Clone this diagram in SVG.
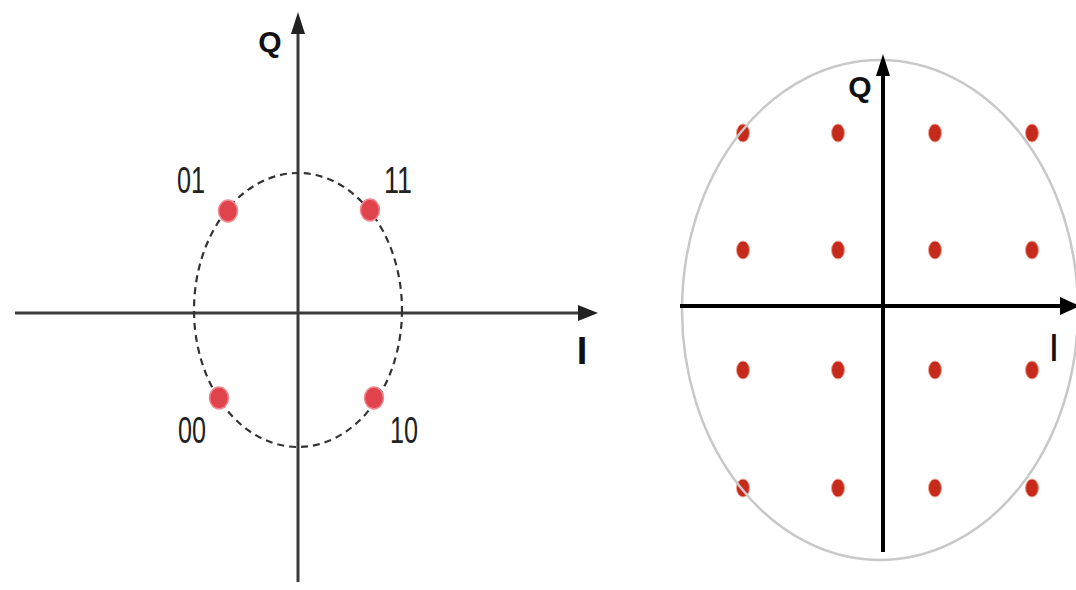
<svg xmlns="http://www.w3.org/2000/svg" width="1076" height="590" viewBox="0 0 1076 590">
<style>
.ax1{stroke:#3a3a3a;stroke-width:3;fill:none}
.ax2{stroke:#000;stroke-width:4;fill:none}
.lbl{font-family:"Liberation Sans",Arial,sans-serif;font-size:36px;fill:#222}
.axl{font-family:"Liberation Sans",Arial,sans-serif;font-weight:bold;font-size:30px;fill:#111}
.pt1{fill:#e0434b;stroke:#f08a90;stroke-width:1.5}
.pt2{fill:#c62a1c;stroke:#f2a090;stroke-width:1}
</style>
<rect width="1076" height="590" fill="#fff"/>
<g id="left-axes">
<line class="ax1" x1="298" y1="582" x2="298" y2="30"/>
<polygon points="298,12 291,34 305,34" fill="#222"/>
<line class="ax1" x1="15" y1="313" x2="580" y2="313"/>
<polygon points="598,313 578,305 578,321" fill="#222"/>
<text class="axl" x="270" y="52" text-anchor="middle">Q</text>
<text class="axl" x="582" y="364" text-anchor="middle" style="font-size:38px">I</text>
</g>
<g id="left-ellipse">
<ellipse cx="298" cy="310" rx="104" ry="137" fill="none" stroke="#333" stroke-width="2.2" stroke-dasharray="7,5"/>
</g>
<g id="pt01"><ellipse class="pt1" cx="228" cy="211" rx="9.5" ry="11"/><text class="lbl" x="177" y="193" textLength="28" lengthAdjust="spacingAndGlyphs">01</text></g>
<g id="pt11"><ellipse class="pt1" cx="370" cy="210" rx="9.5" ry="11"/><text class="lbl" x="384" y="193" textLength="28" lengthAdjust="spacingAndGlyphs">11</text></g>
<g id="pt00"><ellipse class="pt1" cx="219" cy="398" rx="9.5" ry="11"/><text class="lbl" x="178" y="443" textLength="28" lengthAdjust="spacingAndGlyphs">00</text></g>
<g id="pt10"><ellipse class="pt1" cx="374" cy="398" rx="9.5" ry="11"/><text class="lbl" x="390" y="443" textLength="28" lengthAdjust="spacingAndGlyphs">10</text></g>
<g id="right-points">
<ellipse class="pt2" cx="743" cy="133" rx="6.5" ry="9"/>
<ellipse class="pt2" cx="838" cy="133" rx="6.5" ry="9"/>
<ellipse class="pt2" cx="935" cy="133" rx="6.5" ry="9"/>
<ellipse class="pt2" cx="1032" cy="133" rx="6.5" ry="9"/>
<ellipse class="pt2" cx="743" cy="250" rx="6.5" ry="9"/>
<ellipse class="pt2" cx="838" cy="250" rx="6.5" ry="9"/>
<ellipse class="pt2" cx="935" cy="250" rx="6.5" ry="9"/>
<ellipse class="pt2" cx="1032" cy="250" rx="6.5" ry="9"/>
<ellipse class="pt2" cx="743" cy="370" rx="6.5" ry="9"/>
<ellipse class="pt2" cx="838" cy="370" rx="6.5" ry="9"/>
<ellipse class="pt2" cx="935" cy="370" rx="6.5" ry="9"/>
<ellipse class="pt2" cx="1032" cy="370" rx="6.5" ry="9"/>
<ellipse class="pt2" cx="743" cy="488" rx="6.5" ry="9"/>
<ellipse class="pt2" cx="838" cy="488" rx="6.5" ry="9"/>
<ellipse class="pt2" cx="935" cy="488" rx="6.5" ry="9"/>
<ellipse class="pt2" cx="1032" cy="488" rx="6.5" ry="9"/>
</g>
<g id="right-circle">
<ellipse cx="880" cy="310" rx="198" ry="250" fill="none" stroke="#c8c8c8" stroke-width="2.5"/>
</g>
<g id="right-axes">
<line class="ax2" x1="680" y1="306" x2="1062" y2="306"/>
<polygon points="1080,306 1060,297 1060,315" fill="#000"/>
<line class="ax2" x1="883" y1="552" x2="883" y2="72"/>
<polygon points="883,54 876,76 890,76" fill="#000"/>
<text class="axl" x="860" y="97" text-anchor="middle">Q</text>
<text class="axl" x="1054" y="361" text-anchor="middle" style="font-size:39px;font-weight:normal">I</text>
</g>
</svg>
